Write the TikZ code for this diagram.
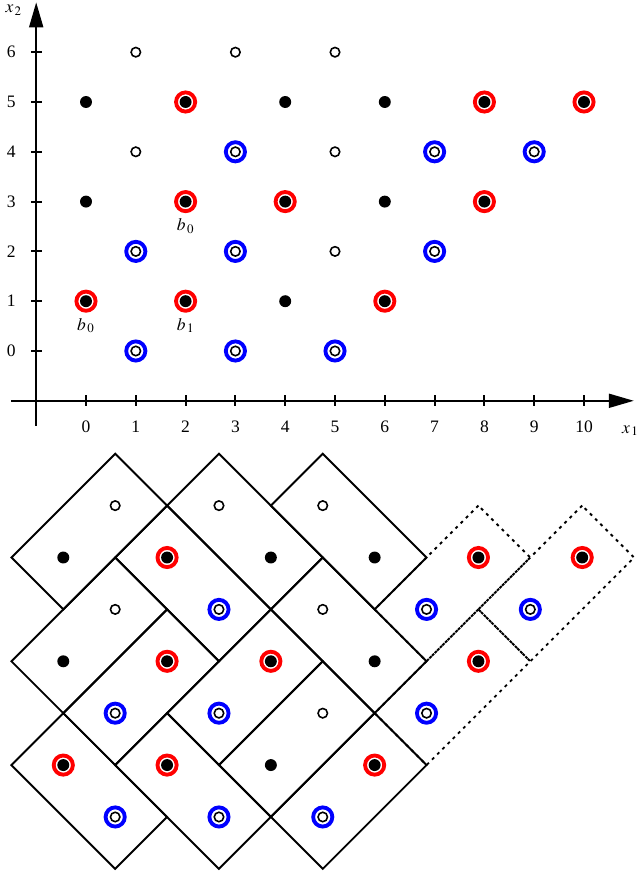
\documentclass[tikz,border=0pt]{standalone}
\usepackage{mathptmx}
\usepackage{fontspec}
\setmainfont{Liberation Serif}
\usetikzlibrary{arrows.meta,positioning}
\begin{document}
\begin{tikzpicture}
\tikzset{
dot/.style={circle,fill=black,inner sep=0pt,minimum size=0.24cm},
hole/.style={circle,draw=black,line width=0.9pt,inner sep=0pt,minimum size=0.19cm},
redpt/.style={circle,draw=red,line width=2.2pt,inner sep=0pt,minimum size=0.385cm,
  path picture={\fill[black] (path picture bounding box.center) circle (0.12cm);}},
bluept/.style={circle,draw=blue,line width=2.2pt,inner sep=0pt,minimum size=0.385cm,
  path picture={\draw[black,line width=0.9pt] (path picture bounding box.center) circle (0.095cm);}},
axisline/.style={line width=1.1pt,-{Triangle[length=0.5cm,width=0.28cm]}},
tickmark/.style={line width=1.1pt},
tile/.style={draw,rectangle,line width=1.1pt,inner sep=0pt,minimum width=2.947cm,minimum height=1.474cm},
opentile/.style={tile,dash pattern=on 1.7pt off 2.5pt},
font={\fontsize{10pt}{12}\selectfont}
}

\useasboundingbox (-1.727,-10.442) rectangle (11.145,7.048);

\coordinate (O1) at (-1.5,-1);
\coordinate (E1) at (11,-1);
\coordinate (O2) at (-1,-1.5);
\coordinate (E2) at (-1,7);
\draw[axisline] (O1) -- (E1);
\draw[axisline] (O2) -- (E2);
\node (X1) at (10.93,-1.6) {$x_{\,1}$};
\node (X2) at (-1.45,6.84) {$x_{\,2}$};

\path[draw,tickmark]
 (0,-0.89) -- (0,-1.11)   (1,-0.89) -- (1,-1.11)   (2,-0.89) -- (2,-1.11)
 (3,-0.89) -- (3,-1.11)   (4,-0.89) -- (4,-1.11)   (5,-0.89) -- (5,-1.11)
 (6,-0.89) -- (6,-1.11)   (7,-0.89) -- (7,-1.11)   (8,-0.89) -- (8,-1.11)
 (9,-0.89) -- (9,-1.11)   (10,-0.89) -- (10,-1.11)
 (-0.89,0) -- (-1.11,0)   (-0.89,1) -- (-1.11,1)   (-0.89,2) -- (-1.11,2)
 (-0.89,3) -- (-1.11,3)   (-0.89,4) -- (-1.11,4)   (-0.89,5) -- (-1.11,5)
 (-0.89,6) -- (-1.11,6)
;

\node (x0) at (0,-1.52) {0};
\node (x1) at (1,-1.52) {1};
\node (x2) at (2,-1.52) {2};
\node (x3) at (3,-1.52) {3};
\node (x4) at (4,-1.52) {4};
\node (x5) at (5,-1.52) {5};
\node (x6) at (6,-1.52) {6};
\node (x7) at (7,-1.52) {7};
\node (x8) at (8,-1.52) {8};
\node (x9) at (9,-1.52) {9};
\node (x10) at (10,-1.52) {10};
\node (y0) at (-1.5,0) {0};
\node (y1) at (-1.5,1) {1};
\node (y2) at (-1.5,2) {2};
\node (y3) at (-1.5,3) {3};
\node (y4) at (-1.5,4) {4};
\node (y5) at (-1.5,5) {5};
\node (y6) at (-1.5,6) {6};

\node[hole] (A16) at (1,6) {};
\node[hole] (A36) at (3,6) {};
\node[hole] (A56) at (5,6) {};
\node[dot] (A05) at (0,5) {};
\node[redpt] (A25) at (2,5) {};
\node[dot] (A45) at (4,5) {};
\node[dot] (A65) at (6,5) {};
\node[redpt] (A85) at (8,5) {};
\node[redpt] (A105) at (10,5) {};
\node[hole] (A14) at (1,4) {};
\node[bluept] (A34) at (3,4) {};
\node[hole] (A54) at (5,4) {};
\node[bluept] (A74) at (7,4) {};
\node[bluept] (A94) at (9,4) {};
\node[dot] (A03) at (0,3) {};
\node[redpt] (A23) at (2,3) {};
\node[redpt] (A43) at (4,3) {};
\node[dot] (A63) at (6,3) {};
\node[redpt] (A83) at (8,3) {};
\node[bluept] (A12) at (1,2) {};
\node[bluept] (A32) at (3,2) {};
\node[hole] (A52) at (5,2) {};
\node[bluept] (A72) at (7,2) {};
\node[redpt] (A01) at (0,1) {};
\node[redpt] (A21) at (2,1) {};
\node[dot] (A41) at (4,1) {};
\node[redpt] (A61) at (6,1) {};
\node[bluept] (A10) at (1,0) {};
\node[bluept] (A30) at (3,0) {};
\node[bluept] (A50) at (5,0) {};

\node[below=-0.5pt of A23] (lbA) {$b_{\,0}$};
\node[below=-0.5pt of A01] (lbB) {$b_{\,0}$};
\node[below=-0.5pt of A21] (lbC) {$b_{\,1}$};

\begin{scope}[shift={(-0.456,-9.357)},scale=1.042]
\node[tile,rotate=45] (T1) at (0.5,5.5) {};
\node[tile,rotate=-45] (T2) at (3.5,5.5) {};
\node[tile,rotate=-45] (T3) at (5.5,5.5) {};
\node[tile,rotate=-45] (T4) at (2.5,4.5) {};
\node[tile,rotate=45] (T5) at (0.5,3.5) {};
\node[tile,rotate=45] (T6) at (1.5,2.5) {};
\node[tile,rotate=45] (T7) at (3.5,2.5) {};
\node[tile,rotate=-45] (T8) at (5.5,3.5) {};
\node[tile,rotate=-45] (T9) at (0.5,0.5) {};
\node[tile,rotate=-45] (T10) at (2.5,0.5) {};
\node[tile,rotate=45] (T11) at (4.5,1.5) {};
\node[tile,rotate=45] (T12) at (5.5,0.5) {};
\node[opentile,rotate=45] (T13) at (7.5,4.5) {};
\node[opentile,rotate=45] (T14) at (9.5,4.5) {};
\node[opentile,rotate=45] (T15) at (7.5,2.5) {};

\node[hole] (B16) at (1,6) {};
\node[hole] (B36) at (3,6) {};
\node[hole] (B56) at (5,6) {};
\node[dot] (B05) at (0,5) {};
\node[redpt] (B25) at (2,5) {};
\node[dot] (B45) at (4,5) {};
\node[dot] (B65) at (6,5) {};
\node[redpt] (B85) at (8,5) {};
\node[redpt] (B105) at (10,5) {};
\node[hole] (B14) at (1,4) {};
\node[bluept] (B34) at (3,4) {};
\node[hole] (B54) at (5,4) {};
\node[bluept] (B74) at (7,4) {};
\node[bluept] (B94) at (9,4) {};
\node[dot] (B03) at (0,3) {};
\node[redpt] (B23) at (2,3) {};
\node[redpt] (B43) at (4,3) {};
\node[dot] (B63) at (6,3) {};
\node[redpt] (B83) at (8,3) {};
\node[bluept] (B12) at (1,2) {};
\node[bluept] (B32) at (3,2) {};
\node[hole] (B52) at (5,2) {};
\node[bluept] (B72) at (7,2) {};
\node[redpt] (B01) at (0,1) {};
\node[redpt] (B21) at (2,1) {};
\node[dot] (B41) at (4,1) {};
\node[redpt] (B61) at (6,1) {};
\node[bluept] (B10) at (1,0) {};
\node[bluept] (B30) at (3,0) {};
\node[bluept] (B50) at (5,0) {};
\end{scope}
\end{tikzpicture}
\end{document}
